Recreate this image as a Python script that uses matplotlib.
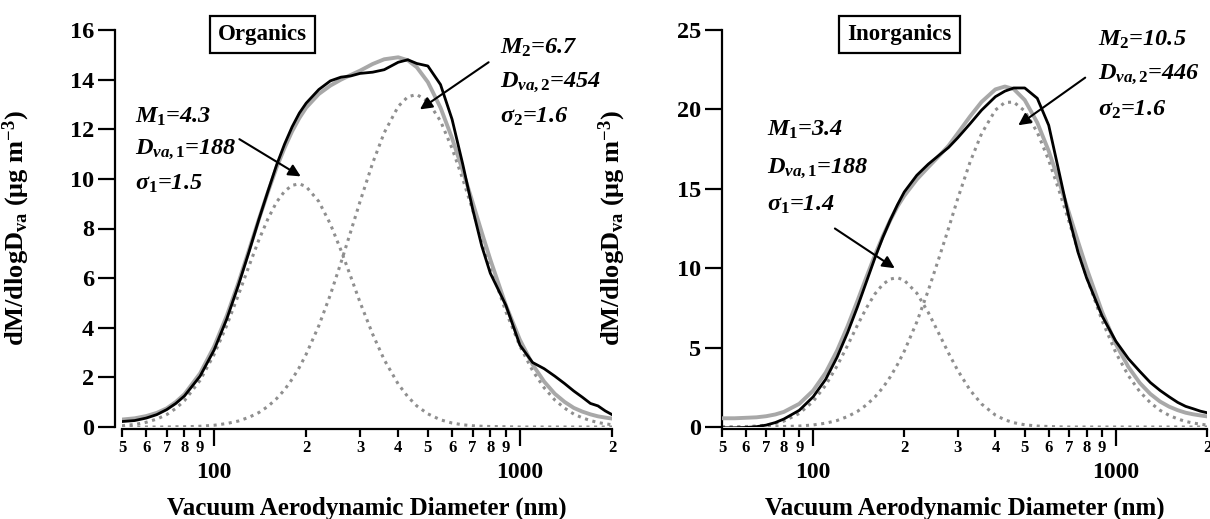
import numpy as np
import matplotlib.pyplot as plt
from matplotlib.ticker import FixedLocator, FixedFormatter, NullLocator

plt.rcParams['font.family'] = 'Liberation Serif'
plt.rcParams['font.weight'] = 'bold'
plt.rcParams['mathtext.fontset'] = 'custom'
plt.rcParams['mathtext.rm'] = 'Liberation Serif:bold'
plt.rcParams['mathtext.it'] = 'Liberation Serif:italic:bold'
plt.rcParams['mathtext.bf'] = 'Liberation Serif:bold'

# vacuum aerodynamic diameter (nm), shared by all curves
diam = [50, 55, 60, 65, 70, 75, 80, 90, 100, 110, 120, 130, 140, 150, 160, 170, 180, 190,
        200, 220, 240, 260, 280, 300, 330, 360, 400, 430, 460, 500, 550, 600, 650, 700,
        750, 800, 900, 1000, 1100, 1200, 1300, 1400, 1500, 1600, 1700, 1800, 1900, 2000]

# organics
org_meas = [0.22, 0.26, 0.36, 0.50, 0.70, 0.95, 1.25, 2.05, 3.10, 4.35, 5.70, 7.05, 8.35, 9.50,
            10.55, 11.40, 12.10, 12.65, 13.05, 13.60, 13.95, 14.10, 14.15, 14.25, 14.30, 14.40,
            14.70, 14.80, 14.65, 14.55, 13.80, 12.40, 10.60, 8.80, 7.30, 6.20, 4.90, 3.30,
            2.60, 2.35, 2.05, 1.75, 1.45, 1.20, 0.95, 0.85, 0.65, 0.50]
org_fit = [0.30, 0.35, 0.44, 0.57, 0.75, 1.01, 1.32, 2.16, 3.24, 4.48, 5.80, 7.12, 8.36, 9.47,
           10.45, 11.25, 11.92, 12.45, 12.87, 13.42, 13.76, 14.00, 14.19, 14.36, 14.63, 14.82,
           14.90, 14.78, 14.50, 13.90, 12.87, 11.64, 10.34, 9.06, 7.85, 6.75, 4.90, 3.51,
           2.52, 1.83, 1.34, 1.01, 0.77, 0.62, 0.51, 0.43, 0.38, 0.34]
org_mode1 = [0.05, 0.10, 0.19, 0.32, 0.50, 0.75, 1.06, 1.88, 2.92, 4.09, 5.31, 6.48, 7.53, 8.39,
             9.06, 9.50, 9.74, 9.80, 9.69, 9.09, 8.18, 7.12, 6.05, 5.03, 3.74, 2.71, 1.73,
             1.22, 0.85, 0.53, 0.29, 0.16, 0.09, 0.05, 0.03, 0.02, 0.01, 0, 0, 0, 0, 0, 0, 0,
             0, 0, 0, 0]
org_mode2 = [0, 0, 0, 0, 0, 0.01, 0.01, 0.03, 0.07, 0.14, 0.24, 0.39, 0.58, 0.83, 1.14, 1.50,
             1.93, 2.40, 2.93, 4.08, 5.33, 6.63, 7.89, 9.08, 10.64, 11.86, 12.92, 13.31, 13.40,
             13.12, 12.33, 11.23, 10.00, 8.76, 7.57, 6.48, 4.64, 3.26, 2.27, 1.58, 1.09, 0.76,
             0.52, 0.37, 0.26, 0.18, 0.13, 0.09]

# inorganics
inorg_meas = [-0.05, -0.05, -0.03, 0.02, 0.12, 0.28, 0.50, 1.05, 1.90, 3.00, 4.40, 5.95, 7.55,
              9.15, 10.65, 11.95, 13.05, 14.00, 14.80, 15.85, 16.55, 17.10, 17.60, 18.20,
              19.10, 19.95, 20.80, 21.15, 21.35, 21.35, 20.70, 19.00, 16.00, 13.20, 11.00,
              9.40, 7.00, 5.40, 4.30, 3.50, 2.80, 2.30, 1.90, 1.55, 1.30, 1.15, 1.00, 0.90]
inorg_fit = [0.55, 0.55, 0.58, 0.61, 0.68, 0.79, 0.95, 1.46, 2.29, 3.42, 4.81, 6.35, 7.93, 9.44,
             10.82, 12.02, 13.04, 13.89, 14.56, 15.59, 16.36, 17.05, 17.71, 18.48, 19.56,
             20.47, 21.26, 21.44, 21.28, 20.59, 19.17, 17.38, 15.42, 13.49, 11.67, 10.01, 7.26,
             5.22, 3.78, 2.77, 2.08, 1.60, 1.28, 1.06, 0.90, 0.80, 0.73, 0.67]
inorg_mode1 = [0, 0, 0.03, 0.06, 0.12, 0.22, 0.37, 0.85, 1.61, 2.63, 3.85, 5.14, 6.40, 7.50,
               8.38, 8.99, 9.32, 9.40, 9.24, 8.43, 7.22, 5.90, 4.66, 3.58, 2.32, 1.45, 0.75,
               0.45, 0.27, 0.14, 0.06, 0.03, 0.01, 0, 0, 0, 0, 0, 0, 0, 0, 0, 0, 0, 0, 0, 0, 0]
inorg_mode2 = [0, 0, 0, 0, 0.01, 0.02, 0.03, 0.06, 0.13, 0.24, 0.41, 0.66, 0.98, 1.39, 1.89,
               2.48, 3.17, 3.94, 4.77, 6.61, 8.59, 10.60, 12.50, 14.35, 16.69, 18.47, 19.96,
               20.44, 20.46, 19.90, 18.56, 16.80, 14.86, 12.94, 11.12, 9.46, 6.71, 4.67, 3.23,
               2.22, 1.53, 1.05, 0.73, 0.51, 0.35, 0.25, 0.18, 0.12]

major_ticks = [100, 1000]
major_labels = ['100', '1000']
minor_ticks = [50, 60, 70, 80, 90, 200, 300, 400, 500, 600, 700, 800, 900, 2000]
minor_labels = ['5', '6', '7', '8', '9', '2', '3', '4', '5', '6', '7', '8', '9', '2']

ylabel = r'dM/dlogD$_{\mathrm{va}}$ (μg m$^{\mathrm{-3}}$)'
xlabel = 'Vacuum Aerodynamic Diameter (nm)'

W, H = 1210, 519
fig = plt.figure(figsize=(W / 100, H / 100), dpi=100)
ax1 = fig.add_axes([122 / W, 92 / H, 490 / W, 397 / H])
ax2 = fig.add_axes([722 / W, 92 / H, 485 / W, 397 / H])


def setup(ax, ymax, ystep, yoff, ylab_x):
    ax.set_xscale('log')
    ax.set_xlim(50, 2000)
    ax.set_ylim(0, ymax)
    ax.xaxis.set_major_locator(FixedLocator(major_ticks))
    ax.xaxis.set_major_formatter(FixedFormatter(major_labels))
    ax.xaxis.set_minor_locator(FixedLocator(minor_ticks))
    ax.xaxis.set_minor_formatter(FixedFormatter(minor_labels))
    ax.set_yticks(np.arange(0, ymax + 0.1, ystep))
    ax.yaxis.set_minor_locator(NullLocator())
    for s in ['top', 'right']:
        ax.spines[s].set_visible(False)
    ax.spines['left'].set_position(('outward', yoff))
    ax.spines['bottom'].set_position(('outward', 1.5))
    for s in ['left', 'bottom']:
        ax.spines[s].set_linewidth(1.6)
    ax.tick_params(axis='x', which='major', length=12, width=1.6, labelsize=17, pad=12)
    ax.tick_params(axis='x', which='minor', length=6, width=1.6, labelsize=12, pad=2)
    ax.tick_params(axis='y', which='major', length=12, width=1.6, labelsize=17.5, pad=3)
    ax.set_xlabel(xlabel, fontsize=18, fontweight='bold')
    ax.xaxis.set_label_coords(0.5, -0.205)
    ax.xaxis.label.set_va('center')
    ax.set_ylabel(ylabel, fontsize=19, fontweight='bold')
    ax.yaxis.set_label_coords(ylab_x, 0.5)


def draw(ax, meas, fit, m1, m2):
    ax.plot(diam, m1, color='#8f8f8f', lw=2.2, linestyle=(0, (1, 1.5)), zorder=2)
    ax.plot(diam, m2, color='#8f8f8f', lw=2.2, linestyle=(0, (1, 1.5)), zorder=2)
    ax.plot(diam, fit, color='#a8a8a8', lw=2.8, zorder=3)
    ax.plot(diam, meas, color='black', lw=2.0, zorder=4)


def arrow(ax, tail, tip):
    ax.annotate('', xy=tip, xytext=tail,
                arrowprops=dict(arrowstyle='-|>', color='black', lw=1.5,
                                mutation_scale=18, shrinkA=0, shrinkB=0))


def label_box(ax, x, y, s):
    ax.text(x, y, s, ha='center', va='center', fontsize=16.5, fontweight='bold',
            bbox=dict(boxstyle='square,pad=0.35', fc='white', ec='black', lw=1.6))


def mode_text(ax, x, ys, lines):
    for y, s in zip(ys, lines):
        ax.text(x, y, s, fontsize=17.5, fontweight='bold', style='italic', va='center')


setup(ax1, 16, 2, 5, -0.184)
setup(ax2, 25, 5, 0, -0.194)

draw(ax1, org_meas, org_fit, org_mode1, org_mode2)
draw(ax2, inorg_meas, inorg_fit, inorg_mode1, inorg_mode2)

label_box(ax1, 143.5, 15.8, 'Organics')
label_box(ax2, 193, 24.7, 'Inorganics')

mode_text(ax1, 55, [12.5, 11.2, 9.8],
          [r'$M_{\mathit{1}}$=4.3', r'$D_{va,\mathit{1}}$=188', r'$\sigma_{\mathit{1}}$=1.5'])
mode_text(ax1, 862, [15.3, 13.9, 12.5],
          [r'$M_{\mathit{2}}$=6.7', r'$D_{va,\mathit{2}}$=454', r'$\sigma_{\mathit{2}}$=1.6'])
arrow(ax1, (121, 11.6), (192, 10.1))
arrow(ax1, (790, 14.7), (471, 12.8))

mode_text(ax2, 70.6, [18.7, 16.3, 14.0],
          [r'$M_{\mathit{1}}$=3.4', r'$D_{va,\mathit{1}}$=188', r'$\sigma_{\mathit{1}}$=1.4'])
mode_text(ax2, 870, [24.4, 22.2, 20.0],
          [r'$M_{\mathit{2}}$=10.5', r'$D_{va,\mathit{2}}$=446', r'$\sigma_{\mathit{2}}$=1.6'])
arrow(ax2, (118, 12.5), (186, 10.0))
arrow(ax2, (792, 22.0), (476, 19.0))

fig.savefig('out.png', dpi=100)
